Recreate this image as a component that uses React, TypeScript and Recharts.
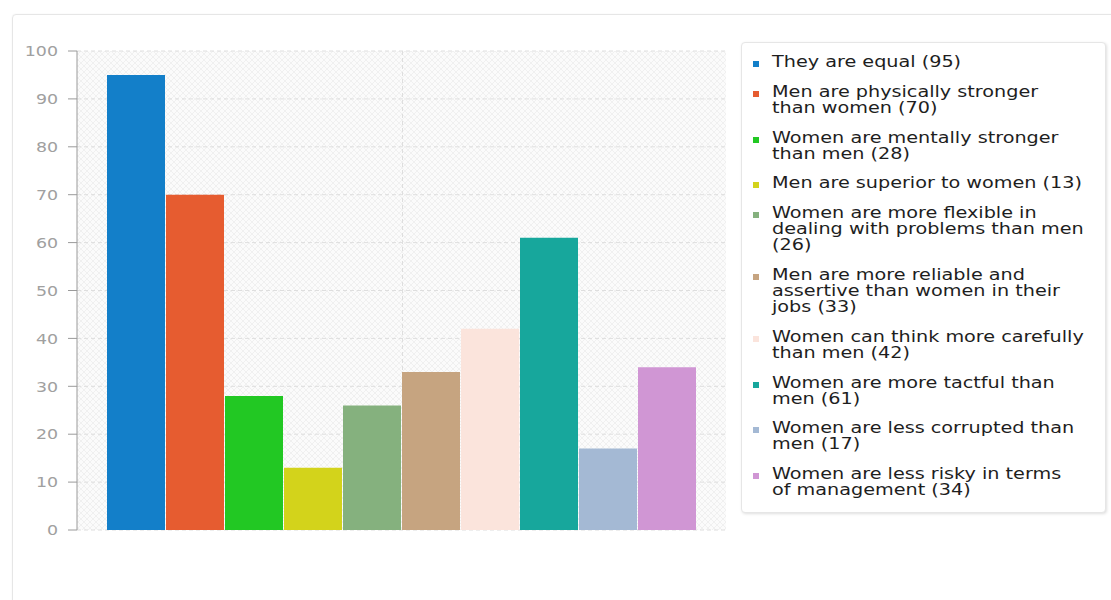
import React from 'react';
import { BarChart, Bar, XAxis, YAxis, CartesianGrid, Legend } from 'recharts';

// Survey answers (legend text, wrapped as displayed) and their counts
const opinions: string[] = [
  'They are equal',
  'Men are physically stronger\nthan women',
  'Women are mentally stronger\nthan men',
  'Men are superior to women',
  'Women are more flexible in\ndealing with problems than men\n',
  'Men are more reliable and\nassertive than women in their\njobs',
  'Women can think more carefully\nthan men',
  'Women are more tactful than\nmen',
  'Women are less corrupted than\nmen',
  'Women are less risky in terms\nof management',
];

const counts: number[] = [95, 70, 28, 13, 26, 33, 42, 61, 17, 34];

const colors: string[] = [
  '#137fc9',
  '#e65c30',
  '#22c823',
  '#d3d31b',
  '#85b17e',
  '#c6a480',
  '#fbe4dc',
  '#17a79c',
  '#a4b9d4',
  '#d096d4',
];

const yTicks: number[] = [0, 10, 20, 30, 40, 50, 60, 70, 80, 90, 100];

// One category holding one bar per answer
const row: Record<string, number | string> = { name: 'answers' };
counts.forEach((v, i) => {
  row[`s${i}`] = v;
});
const data = [row];

const legendText = (label: string, v: number) =>
  label.endsWith('\n') ? `${label}(${v})` : `${label} (${v})`;

const YTick = (props: any) => {
  const { x, y, payload } = props;
  return (
    <g transform={`translate(${x},${y})`}>
      <text
        transform="scale(1.2,1)"
        textAnchor="end"
        dy="0.36em"
        fill="#a0a0a0"
        fontSize={14.5}
        fontFamily="DejaVu Sans"
      >
        {payload.value}
      </text>
    </g>
  );
};

// vertical grid line through the middle of the single category band
const centerLine = ({ offset }: any) => [offset.left + offset.width / 2 + 1];

const renderLegend = () => (
  <div
    style={{
      boxSizing: 'border-box',
      width: 365,
      height: 471,
      border: '1px solid #e6e6e6',
      borderRadius: 4,
      boxShadow: '1px 1px 3px rgba(0,0,0,0.13)',
      background: '#fff',
      padding: '11px 0 0 11px',
      fontFamily: 'DejaVu Sans',
    }}
  >
    {opinions.map((label, i) => (
      <div key={i} style={{ position: 'relative', paddingLeft: 19, marginBottom: 13.8 }}>
        <span
          style={{
            position: 'absolute',
            left: 0,
            top: 7,
            width: 6,
            height: 6,
            background: colors[i],
          }}
        />
        <div
          style={{
            transform: 'scaleX(1.2)',
            transformOrigin: 'left top',
            fontSize: 16,
            lineHeight: '16px',
            color: '#1e1e1e',
            whiteSpace: 'pre',
          }}
        >
          {legendText(label, counts[i])}
        </div>
      </div>
    ))}
  </div>
);

export default function App() {
  return (
    <div
      style={{
        position: 'absolute',
        left: 0,
        top: 0,
        width: 1111,
        height: 600,
        overflow: 'hidden',
        background: '#fff',
        fontFamily: 'DejaVu Sans',
      }}
    >
      <svg width={0} height={0} style={{ position: 'absolute' }}>
        <defs>
          <pattern id="plotHatch" width={6} height={6} patternUnits="userSpaceOnUse">
            <rect width={6} height={6} fill="#fbfbfb" />
            <path d="M0,6 L6,0 M0,0 L6,6" stroke="#f0f0f0" strokeWidth={1} />
          </pattern>
        </defs>
      </svg>
      <div
        style={{
          position: 'absolute',
          left: 12,
          top: 14,
          width: 1130,
          height: 640,
          border: '1px solid #e6e6e6',
          borderRadius: 4,
          boxShadow: '0 0 2px rgba(0,0,0,0.06)',
        }}
      />
      <div style={{ position: 'absolute', left: 0, top: 0 }}>
        <BarChart
          width={1111}
          height={600}
          data={data}
          margin={{ top: 51, right: 385, bottom: 70, left: 0 }}
          barCategoryGap={30}
          barGap={1}
        >
          <CartesianGrid
            stroke="#dedede"
            strokeDasharray="4 3"
            fill="url(#plotHatch)"
            verticalCoordinatesGenerator={centerLine}
          />
          <XAxis
            dataKey="name"
            type="category"
            tick={false}
            tickLine={false}
            axisLine={{ stroke: '#9a9a9a' }}
            height={0}
          />
          <YAxis
            type="number"
            domain={[0, 100]}
            ticks={yTicks}
            interval={0}
            width={77}
            tickSize={9}
            tickMargin={10}
            axisLine={{ stroke: '#9a9a9a' }}
            tickLine={{ stroke: '#9a9a9a' }}
            tick={<YTick />}
          />
          <Legend
            layout="vertical"
            align="center"
            verticalAlign="middle"
            content={renderLegend}
            wrapperStyle={{ left: 741, top: 42, width: 365, height: 471 }}
          />
          {counts.map((_, i) => (
            <Bar
              key={i}
              dataKey={`s${i}`}
              name={opinions[i]}
              fill={colors[i]}
              isAnimationActive={false}
            />
          ))}
        </BarChart>
      </div>
    </div>
  );
}
